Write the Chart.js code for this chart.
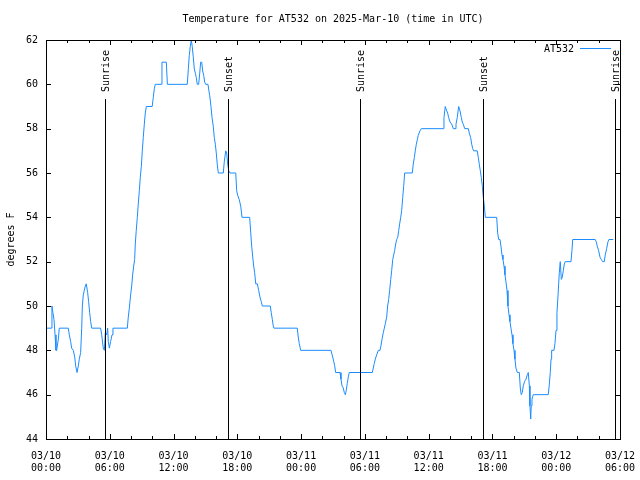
<!DOCTYPE html>
<html>
<head>
<meta charset="utf-8">
<script src="https://cdn.jsdelivr.net/npm/chart.js@4/dist/chart.umd.min.js"></script>
<style>
  html, body { margin: 0; padding: 0; background: #fff; }
</style>
</head>
<body>
<canvas id="myChart" width="640" height="480"></canvas>
<script>
// hours since 03/10 00:00 UTC
var hours = [0,0.52,0.56,0.65,0.75,0.85,0.94,1.0,1.16,1.25,2.1,2.19,2.32,2.41,2.57,2.7,2.79,2.92,3.04,3.13,3.26,3.36,3.42,3.51,3.6,3.7,3.79,3.92,4.01,4.11,4.2,4.3,
  5.14,5.24,5.39,5.49,5.58,5.71,5.8,5.86,5.96,6.08,6.21,6.3,7.65,7.74,7.84,7.96,8.06,8.15,8.25,8.34,8.4,8.49,8.59,8.68,8.78,8.87,8.97,9.06,9.15,9.25,9.34,9.44,
  9.99,10.09,10.19,10.28,10.85,10.91,11.32,11.42,13.29,13.39,13.48,13.57,13.67,13.76,13.86,13.95,14.05,14.14,14.23,14.36,14.46,14.55,14.65,14.74,14.84,14.93,15.02,
  15.24,15.33,15.4,15.52,15.62,15.74,15.83,15.93,16.02,16.11,16.21,16.68,16.77,16.91,17.0,17.09,17.19,17.31,17.85,17.94,18.03,18.18,18.32,18.44,19.16,19.26,19.35,
  19.45,19.54,19.63,19.73,19.88,20.01,20.13,20.25,20.35,21.1,21.19,21.29,21.38,21.45,23.64,23.73,23.83,23.96,26.81,26.97,27.07,27.16,27.25,27.66,27.75,27.85,27.97,
  28.06,28.16,28.25,28.34,28.44,28.53,30.7,30.79,30.88,30.98,31.11,31.26,31.42,31.51,31.61,31.73,31.83,31.92,32.05,32.14,32.24,32.33,32.43,32.52,32.62,32.71,32.8,
  32.9,32.99,33.09,33.18,33.27,33.37,33.46,33.56,33.65,33.74,34.46,34.55,34.65,34.74,34.84,34.93,35.02,35.18,35.31,37.38,37.44,37.56,37.7,37.79,37.88,38.01,38.17,
  38.32,38.48,38.57,38.69,38.82,38.95,39.07,39.16,39.26,39.39,39.73,39.82,39.95,40.05,40.14,40.23,40.57,40.67,40.76,40.86,40.95,41.05,41.14,41.24,41.33,42.4,42.49,
  42.59,42.71,42.8,42.9,42.99,43.09,43.18,43.27,43.37,43.46,43.56,43.65,43.74,43.84,43.93,44.03,44.12,44.21,44.34,44.53,44.62,44.71,44.81,44.9,45.03,45.16,45.28,
  45.37,45.47,45.53,45.6,45.65,45.72,45.78,45.84,47.25,47.34,47.44,47.51,47.57,47.79,47.88,47.98,48.07,48.16,48.23,48.29,48.38,48.48,48.57,48.67,48.76,48.85,49.39,
  49.48,49.55,51.67,51.76,51.86,51.99,52.12,52.24,52.37,52.52,52.61,52.75,52.87,52.96,53.37]
// degrees F
var temps = [49,49,50,49.7,49.4,48.7,48,48,48.5,49,49,48.7,48.4,48.1,48,47.7,47.3,47,47.3,47.6,47.9,49,50,50.5,50.7,50.9,51,50.6,50.2,49.7,49.3,49,
  49,48.7,48.1,48,48.8,48.7,49,48.4,48.1,48.4,48.7,49,49,49.5,49.9,50.5,50.9,51.4,51.8,52.1,52.8,53.4,54,54.6,55.2,55.8,56.3,57,57.6,58.2,58.7,59,
  59,59.4,59.8,60,60,61,61,60,60,60.7,61.3,61.7,62,61.7,61.2,60.7,60.5,60.3,60,60,60.5,61,61,60.6,60.4,60.1,60,
  60,59.7,59.5,59,58.5,58.1,57.6,57.3,56.9,56.4,56,56,56.5,57,56.9,56.4,56.1,56,56,55.2,55,54.8,54.5,54,54,53.3,52.7,
  52.2,51.8,51.5,51,51,50.7,50.4,50.2,50,50,49.7,49.4,49.1,49,49,48.6,48.3,48,48,47.7,47.5,47.3,47,47,46.7,46.4,46.3,
  46.1,46,46.2,46.5,46.8,47,47,47.2,47.4,47.6,47.8,48,48,48.2,48.5,48.8,49,49.2,49.5,50,50.3,50.7,51.2,51.6,52.1,52.3,52.5,
  52.8,53,53.1,53.4,53.7,54,54.3,54.9,55.4,56,56,56.4,56.7,57,57.3,57.5,57.7,57.9,58,58,58.5,59,58.8,58.7,58.5,58.3,58.2,
  58,58,58.2,58.5,59,58.8,58.5,58.3,58.2,58,58,57.8,57.6,57.3,57.1,57,57,56.7,56.4,56.1,55.8,55.4,54.9,54.5,54,54,53.3,
  53,53,52.7,52.3,52.1,51.8,51.4,51.1,50.7,50,49.6,49.3,49,48.7,48.3,48,47.6,47.2,47,47,46.3,46,46.1,46.4,46.6,46.7,46.9,
  47,46.4,45.5,44.9,45.5,45.8,45.9,46,46,46.4,47,47.6,48,48,48.3,48.9,49.7,50.4,51,51.5,52,51.2,51.3,51.6,51.9,52,52,
  52.5,53,53,52.9,52.7,52.5,52.2,52.1,52,52,52.3,52.6,52.9,53,53]

var eventHours = [5.58, 17.15, 29.57, 41.14, 53.53]
var eventNames = ['Sunrise', 'Sunset', 'Sunrise', 'Sunset', 'Sunrise']
var xLabels = [['03/10','00:00'],['03/10','06:00'],['03/10','12:00'],['03/10','18:00'],['03/11','00:00'],
  ['03/11','06:00'],['03/11','12:00'],['03/11','18:00'],['03/12','00:00'],['03/12','06:00']]

var titleText = 'Temperature for AT532 on 2025-Mar-10 (time in UTC)'
var seriesName = 'AT532'
var lineColor = '#1a8cff'
var mono = '"DejaVu Sans Mono", "Liberation Mono", monospace'

var points = hours.map(function(h, i){ return {x: h, y: temps[i]} })

// frame, inward ticks, sunrise/sunset markers, legend and title (gnuplot look)
var framePlugin = {
  id: 'frame',
  afterDatasetsDraw: function(chart){
    var c = chart.ctx, a = chart.chartArea
    var xs = chart.scales.x, ys = chart.scales.y
    c.save()
    c.strokeStyle = '#000'
    c.lineWidth = 1
    c.strokeRect(Math.round(a.left) + 0.5, Math.round(a.top) + 0.5,
      Math.round(a.right - a.left), Math.round(a.bottom - a.top))

    c.beginPath()
    xs.ticks.forEach(function(t){
      var px = Math.round(xs.getPixelForValue(t.value)) + 0.5
      var len = (t.value % 6 === 0) ? 5 : 3
      c.moveTo(px, a.bottom); c.lineTo(px, a.bottom - len)
      c.moveTo(px, a.top); c.lineTo(px, a.top + len)
    })
    ys.ticks.forEach(function(t){
      var py = Math.round(ys.getPixelForValue(t.value)) + 0.5
      c.moveTo(a.left, py); c.lineTo(a.left + 5, py)
      c.moveTo(a.right, py); c.lineTo(a.right - 5, py)
    })
    c.stroke()

    // sunrise / sunset
    c.font = '10px ' + mono
    c.fillStyle = '#000'
    eventHours.forEach(function(h, i){
      var px = Math.round(xs.getPixelForValue(h)) + 0.5
      c.beginPath()
      c.moveTo(px, 99); c.lineTo(px, a.bottom)
      c.stroke()
      c.save()
      c.translate(px + 1, 92)
      c.rotate(-Math.PI / 2)
      c.textAlign = 'left'
      c.textBaseline = 'middle'
      c.fillText(eventNames[i], 0, 0)
      c.restore()
    })

    // legend
    c.textAlign = 'right'
    c.textBaseline = 'middle'
    c.fillText(seriesName, 574, 49)
    c.strokeStyle = lineColor
    c.beginPath()
    c.moveTo(580, 48.5); c.lineTo(611, 48.5)
    c.stroke()

    // title
    c.textAlign = 'center'
    c.fillStyle = '#000'
    c.fillText(titleText, (a.left + a.right) / 2, 19)
    c.restore()
  }
}

const ctx = document.getElementById('myChart')

new Chart(ctx, {
  type: 'line',
  data: {
    datasets: [{
      label: seriesName,
      data: points,
      borderColor: lineColor,
      borderWidth: 1,
      pointRadius: 0,
      tension: 0,
      fill: false
    }]
  },
  options: {
    responsive: false,
    animation: false,
    layout: { padding: { top: 40, right: 20, left: 0, bottom: 0 } },
    plugins: {
      legend: { display: false },
      title: { display: false },
      tooltip: { enabled: false }
    },
    scales: {
      x: {
        type: 'linear',
        min: 0,
        max: 54,
        grid: { display: false, drawTicks: false },
        border: { display: false },
        ticks: {
          stepSize: 2,
          autoSkip: false,
          maxRotation: 0,
          padding: 11,
          color: '#000',
          font: { family: mono, size: 10 },
          callback: function(v){ return (v % 6 === 0) ? xLabels[v / 6] : '' }
        },
        afterFit: function(s){ s.height = 41; s.paddingLeft = 0; s.paddingRight = 0 }
      },
      y: {
        min: 44,
        max: 62,
        grid: { display: false, drawTicks: false },
        border: { display: false },
        ticks: {
          stepSize: 2,
          padding: 8,
          color: '#000',
          font: { family: mono, size: 10 }
        },
        title: {
          display: true,
          text: 'degrees F',
          color: '#000',
          padding: { top: 5, bottom: 0 },
          font: { family: mono, size: 10 }
        },
        afterFit: function(s){ s.width = 46; s.paddingTop = 0; s.paddingBottom = 0 }
      }
    }
  },
  plugins: [framePlugin]
})
</script>
</body>
</html>
